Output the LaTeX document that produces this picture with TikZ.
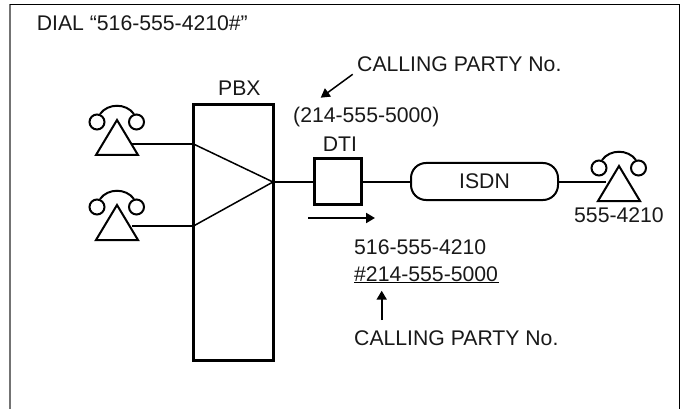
\documentclass[tikz,border=0pt]{standalone}
\usepackage{fontspec}
\setmainfont{Liberation Sans}
\usetikzlibrary{arrows.meta}
\tikzset{
  lbl/.style={anchor=base west,inner sep=0pt,font=\fontsize{21.2}{24}\selectfont,text=black!90},
  thick box/.style={draw=black,line width=3pt},
  wire/.style={draw=black,line width=2pt},
  thin wire/.style={draw=black,line width=1.5pt},
  arrowed/.style={draw=black,line width=2pt,-{Triangle[length=9pt,width=10pt]},shorten >=0pt},
  phone/.pic={
    \draw[line width=2pt,line join=miter] (0,-15) -- (-21,20) -- (21,20) -- cycle;
    \draw[line width=2pt] (-20,-13) circle (7.5);
    \draw[line width=2pt] (19.5,-13) circle (7.5);
    \draw[line width=2pt] (-17,-21) .. controls (-9,-32) and (9,-32) .. (17,-21);
  }
}
\begin{document}
\begin{tikzpicture}[x=1pt,y=-1pt]
\useasboundingbox (0,0) rectangle (680,409);
\fill[white] (0,0) rectangle (680,409);
% frame
\draw[line width=1.5pt,black!55] (10.2,409) -- (10.2,4.5);
\draw[line width=1.1pt,black] (9.5,4.5) -- (679.2,4.5) -- (679.2,409);
% PBX
\node[thick box,minimum width=79.5pt,minimum height=255pt,inner sep=0pt,outer sep=0pt,anchor=north west] (pbx) at (193.5,105) {};
\coordinate (pbxin1) at (193.5,144);
\coordinate (pbxin2) at (193.5,226);
\coordinate (pbxout) at (273,182);
\draw[thin wire] (pbxin1) -- (pbxout) -- (pbxin2);
% phones
\pic at (117,135) {phone};
\pic at (117,220) {phone};
\pic at (619,181) {phone};
\coordinate (ph1) at (132,144);
\coordinate (ph2) at (132,226);
\coordinate (ph3) at (606,182);
\draw[wire] (ph1) -- (pbxin1);
\draw[wire] (ph2) -- (pbxin2);
% DTI
\node[thick box,minimum width=47pt,minimum height=45.5pt,inner sep=0pt,outer sep=0pt,anchor=north west] (dti) at (314,159) {};
% ISDN
\node[draw=black,line width=2pt,rounded corners=15pt,minimum width=147pt,minimum height=37pt,inner sep=0pt,outer sep=0pt,anchor=north west,font=\fontsize{21.2}{24}\selectfont,text=black!90] (isdn) at (411,163) {ISDN};
\draw[wire] (pbxout) -- (dti.west |- pbxout);
\draw[wire] (dti.east |- pbxout) -- (isdn.west |- pbxout);
\draw[wire] (isdn.east |- pbxout) -- (ph3);
% arrows
\coordinate (a1s) at (308,218); \coordinate (a1e) at (375,218);
\draw[arrowed] (a1s) -- (a1e);
\coordinate (a2s) at (352.7,74.3); \coordinate (a2e) at (320.7,97.7);
\draw[arrowed,line width=1.5pt] (a2s) -- (a2e);
\coordinate (a3s) at (381.7,320); \coordinate (a3e) at (381.7,290.7);
\draw[arrowed] (a3s) -- (a3e);
% underline
\coordinate (u1) at (354,282.7); \coordinate (u2) at (499,282.7);
\draw[thin wire] (u1) -- (u2);
% labels
\node[lbl] (t1) at (36.7,30.7) {DIAL “516-555-4210\#”};
\node[lbl] (t2) at (357,71.7) {CALLING PARTY No.};
\node[lbl] (t3) at (218,96) {PBX};
\node[lbl] (t4) at (293,123) {(214-555-5000)};
\node[lbl] (t5) at (322.7,151.7) {DTI};
\node[lbl] (t7) at (574,222.7) {555-4210};
\node[lbl] (t8) at (354,254) {516-555-4210};
\node[lbl] (t9) at (354,281) {\#214-555-5000};
\node[lbl] (t10) at (354,345) {CALLING PARTY No.};
\end{tikzpicture}
\end{document}
